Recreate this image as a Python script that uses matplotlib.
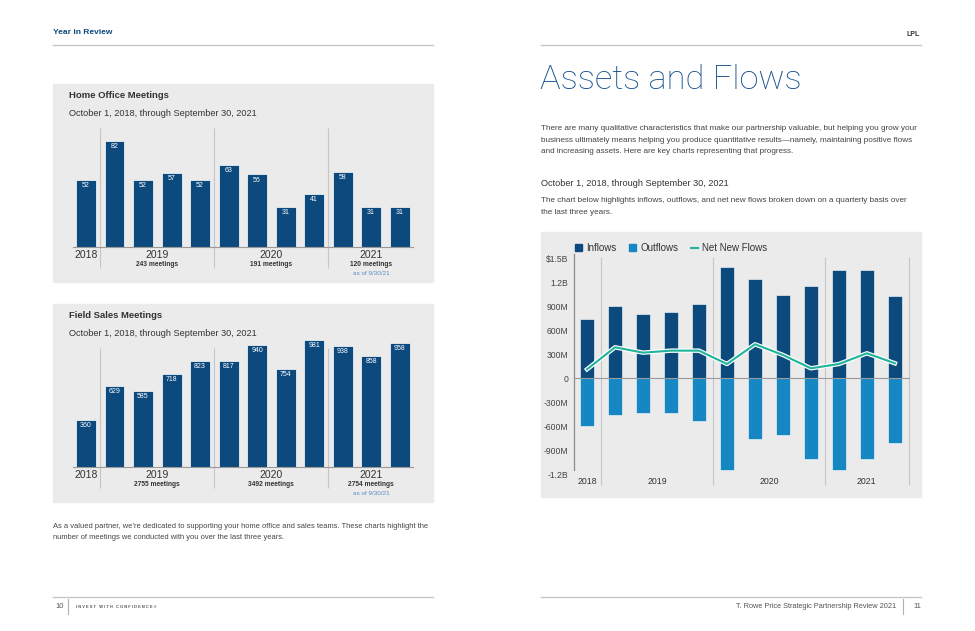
import numpy as np
import matplotlib
matplotlib.use("Agg")
import matplotlib.pyplot as plt
import matplotlib.transforms as mtransforms
import matplotlib.patheffects as pe
from matplotlib.patches import Rectangle, Patch
from matplotlib.lines import Line2D

plt.rcParams['font.family'] = ['Liberation Sans', 'DejaVu Sans']

# ---- data ----
home_office = [52, 82, 52, 57, 52, 63, 56, 31, 41, 58, 31, 31]
field_sales = [360, 629, 585, 718, 823, 817, 940, 754, 981, 938, 858, 958]
years = ['2018', '2019', '2020', '2021']
home_totals = ['243 meetings', '191 meetings', '120 meetings']
field_totals = ['2755 meetings', '3492 meetings', '2754 meetings']

# quarterly flows, billions
inflows = [0.74, 0.90, 0.805, 0.835, 0.925, 1.39, 1.24, 1.04, 1.16, 1.36, 1.36, 1.03]
outflows = [-0.597, -0.463, -0.438, -0.438, -0.530, -1.147, -0.755, -0.709, -1.014, -1.147, -1.005, -0.805]
net_flows = [0.113, 0.388, 0.321, 0.346, 0.346, 0.179, 0.426, 0.292, 0.125, 0.179, 0.313, 0.188]
flow_ticks = [1.5, 1.2, 0.9, 0.6, 0.3, 0, -0.3, -0.6, -0.9, -1.2]
flow_tick_labels = ['$1.5B', '1.2B', '900M', '600M', '300M', '0', '-300M', '-600M', '-900M', '-1.2B']

NAVY = '#0c4a7e'
BLUE = '#1787c3'
TEAL = '#1fb39c'
PANEL = '#ebebeb'
TXT = '#444444'
SEP = '#c6c6c6'

W, H = 975, 631
fig = plt.figure(figsize=(W / 100, H / 100), dpi=100)


def px_axes(x0, y0, x1, y1):
    return fig.add_axes([x0 / W, 1 - y1 / H, (x1 - x0) / W, (y1 - y0) / H])


def t(x, y, s, **kw):
    kw.setdefault('va', 'center')
    kw.setdefault('color', TXT)
    return fig.text(x / W, 1 - y / H, s, **kw)


def hrule(x0, x1, y, color='#c8c8c8', lw=1.0):
    fig.add_artist(Line2D([x0 / W, x1 / W], [1 - y / H, 1 - y / H], color=color, lw=lw))


def vrule(x, y0, y1, color='#b0b0b0', lw=0.8):
    fig.add_artist(Line2D([x / W, x / W], [1 - y0 / H, 1 - y1 / H], color=color, lw=lw))


def panel(x0, y0, x1, y1):
    fig.add_artist(Rectangle((x0 / W, 1 - y1 / H), (x1 - x0) / W, (y1 - y0) / H,
                             transform=fig.transFigure, color=PANEL, zorder=0))


# ---- page furniture ----
t(53, 33, 'Year in Review', color=NAVY, fontsize=6, fontweight='bold')
t(920, 35, 'LPL', color='#333333', fontsize=5, fontweight='bold', ha='right')
hrule(53, 433, 44.5)
hrule(541, 921, 44.5)
hrule(53, 433, 597)
hrule(541, 921, 597)
t(55, 607, '10', fontsize=5.5, color='#555555')
vrule(68, 599, 614)
t(76, 607, 'I N V E S T   W I T H   C O N F I D E N C E ®', fontsize=2.9,
  fontweight='bold', color='#555555')
t(896, 607, 'T. Rowe Price Strategic Partnership Review 2021', fontsize=5.3,
  color='#555555', ha='right')
vrule(903, 599, 614)
t(913, 607, '11', fontsize=5.5, color='#555555')

t(540, 80, 'Assets and Flows', fontsize=24.8, color='#124f8c', fontweight='light',
  family=['Roboto', 'Liberation Sans'])
para = ['There are many qualitative characteristics that make our partnership valuable, but helping you grow your',
        'business ultimately means helping you produce quantitative results\u2014namely, maintaining positive flows',
        'and increasing assets. Here are key charts representing that progress.']
for i, line in enumerate(para):
    t(541, 129 + i * 11.2, line, fontsize=5.9)
t(541, 183, 'October 1, 2018, through September 30, 2021', fontsize=6.6, color='#333333')
t(541, 200, 'The chart below highlights inflows, outflows, and net new flows broken down on a quarterly basis over',
  fontsize=5.9)
t(541, 212, 'the last three years.', fontsize=5.9)

t(53, 526.5, 'As a valued partner, we\u2019re dedicated to supporting your home office and sales teams. '
  'These charts highlight the', fontsize=5.38)
t(53, 537.5, 'number of meetings we conducted with you over the last three years.', fontsize=5.38)


# ---- meeting charts ----
def meeting_chart(box_top, box_bot, base, ppu, ymax, values, title, totals):
    panel(53, box_top, 433, box_bot)
    t(69, box_top + 11, title, fontsize=6.8, fontweight='bold', color='#333333')
    t(69, box_top + 29.5, 'October 1, 2018, through September 30, 2021', fontsize=6.6, color='#333333')
    top = base - ymax * ppu
    ax = px_axes(73, top, 413, base)
    ax.patch.set_alpha(0)
    x = np.arange(len(values))
    ax.bar(x, values, width=0.70, color=NAVY, edgecolor='white', linewidth=0.5, zorder=2)
    ax.set_xlim(-0.456, 11.47)
    ax.set_ylim(0, ymax)
    ax.set_xticks([])
    ax.set_yticks([])
    for s in ['top', 'left', 'right']:
        ax.spines[s].set_visible(False)
    ax.spines['bottom'].set_color('#9a9a9a')
    ax.spines['bottom'].set_linewidth(0.8)
    for xi, v in zip(x, values):
        ax.annotate(str(v), (xi, v), xytext=(0, -4), textcoords='offset points',
                    ha='center', va='center', color='white', fontsize=5, zorder=3)
    blend = mtransforms.blended_transform_factory(ax.transData, fig.transFigure)
    ax.vlines([0.5, 4.5, 8.5], 1 - (base + 21.5) / H, 1 - (base - 118.5) / H,
              transform=blend, color=SEP, lw=0.8, clip_on=False)
    year_x = [0, 2.5, 6.5, 10]
    for yx, yr in zip(year_x, years):
        ax.text(yx, 1 - (base + 8.5) / H, yr, transform=blend, ha='center', va='center',
                fontsize=7.5, color='#333333')
    for yx, tot in zip(year_x[1:], totals):
        ax.text(yx, 1 - (base + 17.5) / H, tot, transform=blend, ha='center', va='center',
                fontsize=4.8, fontweight='bold', color='#333333')
    ax.text(year_x[-1], 1 - (base + 26.5) / H, 'as of 9/30/21', transform=blend, ha='center',
            va='center', fontsize=4.6, color='#5a8fc2')


meeting_chart(84, 281.5, 246.7, 1.29, 90, home_office, 'Home Office Meetings', home_totals)
meeting_chart(304, 501.5, 466.7, 0.129, 1000, field_sales, 'Field Sales Meetings', field_totals)

# ---- assets and flows chart ----
panel(541, 232, 921, 497)
zero_px, ppb = 378.3, 79.9
ax = px_axes(574, 252, 910, 478)
ax.patch.set_alpha(0)
q = np.arange(len(inflows))
ax.bar(q, inflows, width=0.51, color=NAVY, edgecolor='white', linewidth=0.4, zorder=2)
ax.bar(q, outflows, width=0.51, color=BLUE, edgecolor='white', linewidth=0.4, zorder=2)
ax.plot(q, net_flows, color=TEAL, lw=1.5, zorder=4,
        path_effects=[pe.Stroke(linewidth=3.2, foreground='white'), pe.Normal()])
ax.axhline(0, color='#9a9a9a', lw=0.8, zorder=3)
ax.set_xlim(-0.466, 11.54)
ax.set_ylim(-(478 - zero_px) / ppb, (zero_px - 252) / ppb)
ax.set_xticks([])
ax.set_yticks(flow_ticks)
ax.set_yticklabels(flow_tick_labels)
ax.tick_params(axis='y', length=0, pad=4, labelsize=6.2, labelcolor='#444444')
for s in ['top', 'right', 'bottom']:
    ax.spines[s].set_visible(False)
ax.spines['left'].set_color('#8a8a8a')
ax.spines['left'].set_linewidth(0.9)
ax.spines['left'].set_bounds(-1.15, 1.55)
blend = mtransforms.blended_transform_factory(ax.transData, fig.transFigure)
ax.vlines([0.5, 4.5, 8.5, 11.5], 1 - 485 / H, 1 - 257 / H, transform=blend,
          color=SEP, lw=0.8, clip_on=False, zorder=1)
for yx, yr in zip([0, 2.5, 6.5, 10], years):
    ax.text(yx, 1 - 481 / H, yr, transform=blend, ha='center', va='center',
            fontsize=6.3, color='#333333')

handles = [Patch(color=NAVY), Patch(color=BLUE), Line2D([], [], color=TEAL, lw=1.5)]
fig.legend(handles, ['Inflows', 'Outflows', 'Net New Flows'], loc='center left',
           bbox_to_anchor=(570 / W, 1 - 248 / H), ncol=3, frameon=False,
           fontsize=7, handlelength=0.75, handleheight=0.75, handletextpad=0.4,
           columnspacing=1.3, borderpad=0, labelcolor='#333333')

fig.savefig('out.png', dpi=100)
